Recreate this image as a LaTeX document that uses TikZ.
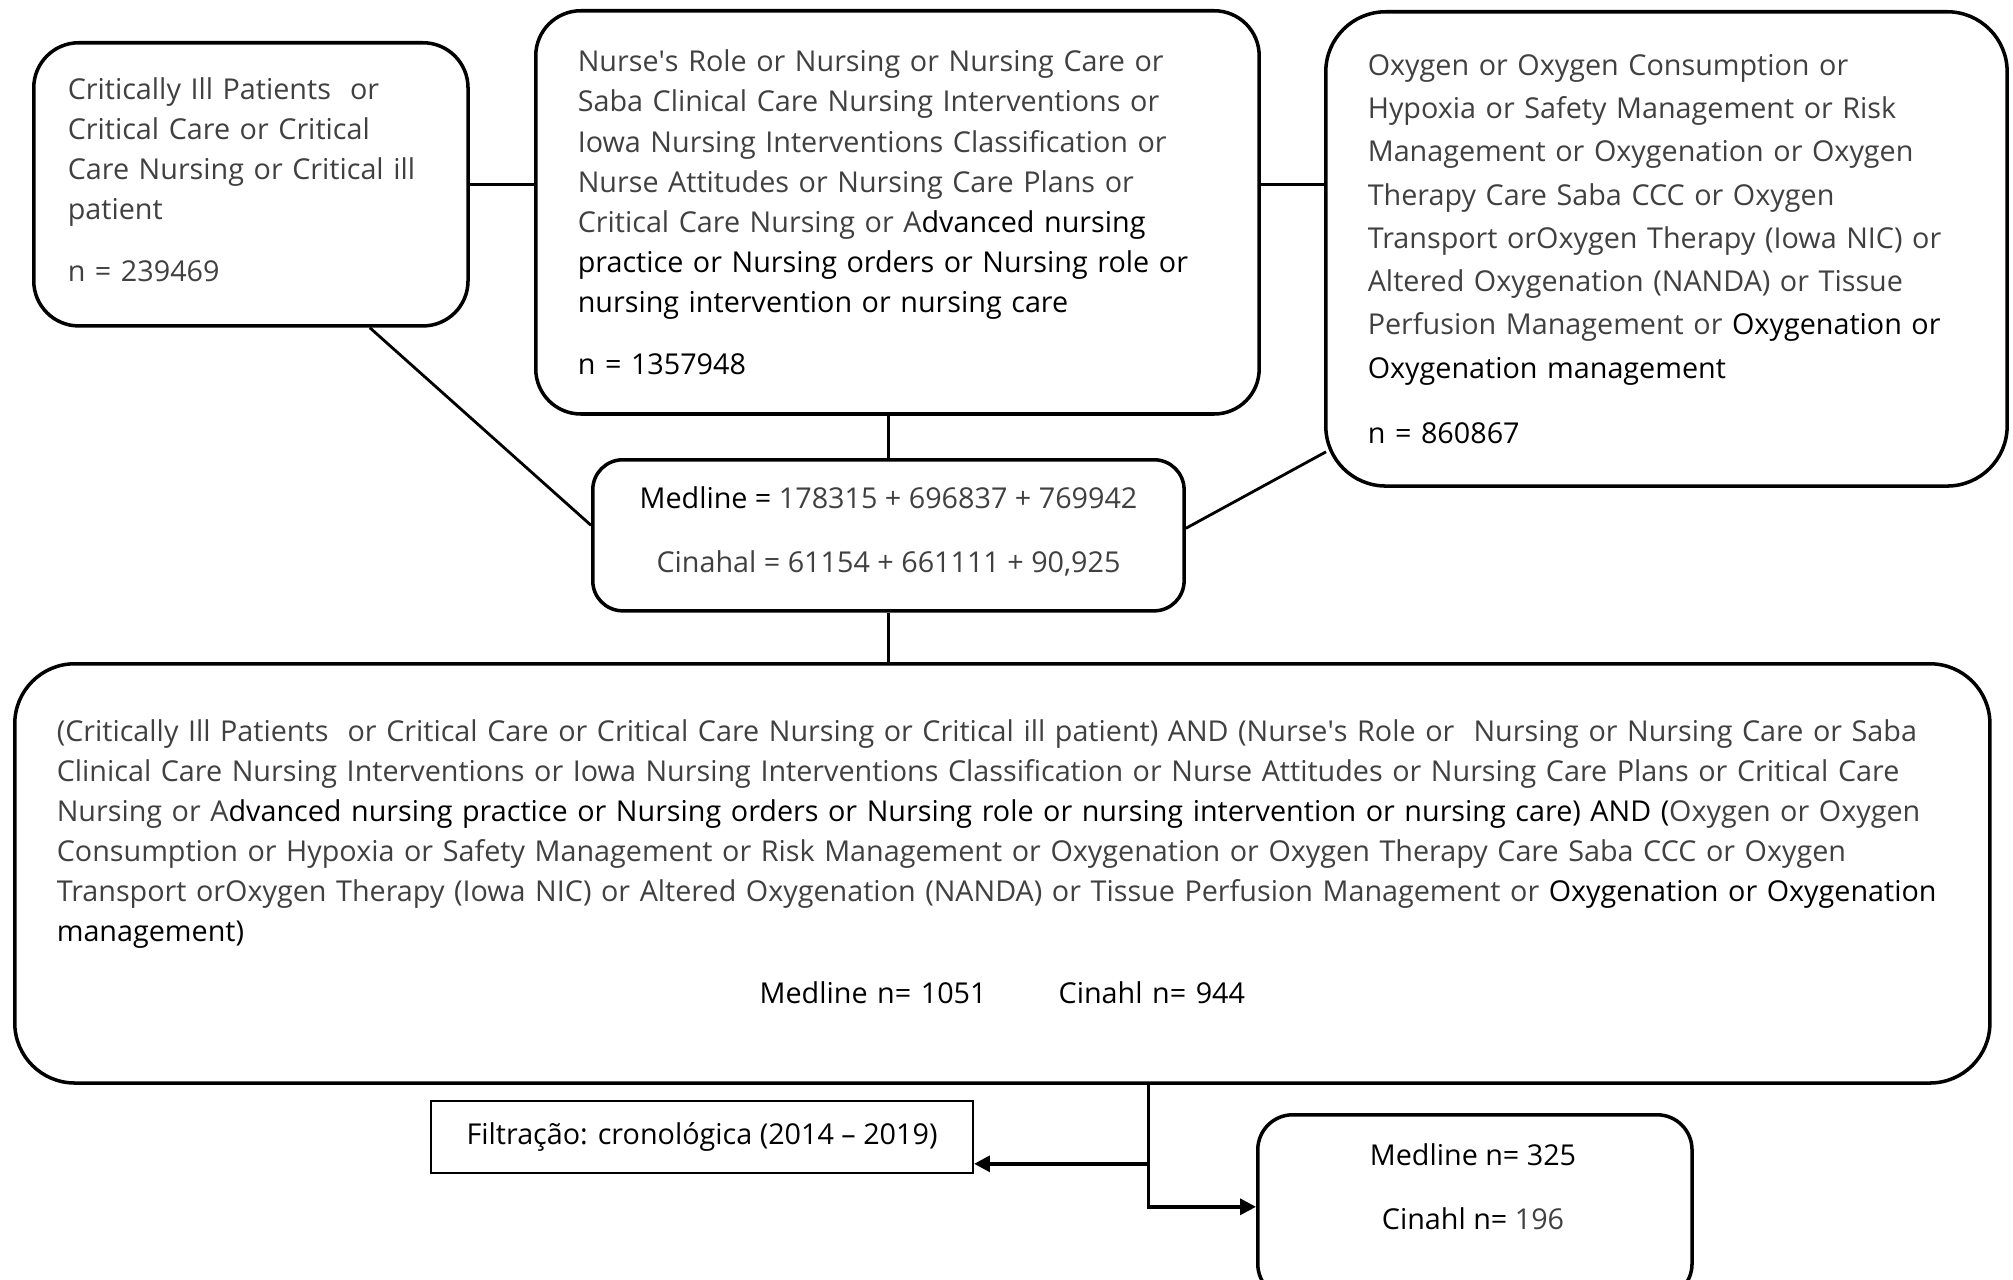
\documentclass[tikz,border=0pt]{standalone}
\usepackage{fontspec}
\setmainfont{Open Sans}
\usepackage{tikz}
\usetikzlibrary{arrows.meta,positioning,calc}
\tikzset{>={Triangle[length=4.5pt,width=4.5pt]}}
\definecolor{termgray}{RGB}{64,64,64}
\newcommand{\apos}{\textquotesingle}
\newcommand{\lift}[1]{\rule[-#1]{0pt}{0pt}}
\tikzstyle{query} = [draw, line width=1pt, rounded corners=0.45cm,
    anchor=north west, align=left, inner ysep=0pt, text=termgray,
    font=\fontsize{8.17pt}{11.4pt}\selectfont]
\tikzstyle{tally} = [draw, line width=1pt, rounded corners=0.3cm,
    anchor=north west, align=center, inner ysep=0pt, text=termgray,
    font=\fontsize{8.17pt}{11.4pt}\selectfont]
\tikzstyle{link} = [line width=0.8pt]
\tikzstyle{flow} = [line width=1pt]

\begin{document}
\begin{tikzpicture}[x=0.01cm,y=-0.01cm]
    \useasboundingbox (0,0) rectangle (2013,1279);
    % search terms
    \node [query, minimum width=4.34cm, minimum height=2.83cm,
        text width=3.66cm, inner xsep=0.34cm] (crit) at (32,41)
        {Critically Ill Patients\ \ or\\Critical Care or Critical\\
        Care Nursing or Critical ill\\patient\\[0.22cm]n = 239469\lift{0.1cm}};
    \node [query, minimum width=7.23cm, minimum height=4.03cm,
        text width=6.39cm, inner xsep=0.42cm] (nurse) at (534,9)
        {Nurse\apos s Role or Nursing or Nursing Care or\\
        Saba Clinical Care Nursing Interventions or\\
        Iowa Nursing Interventions Classification or\\
        Nurse Attitudes or Nursing Care Plans or\\
        Critical Care Nursing or A\color{black}dvanced nursing\\
        practice or Nursing orders or Nursing role or\\
        nursing intervention or nursing care\\[0.22cm]n = 1357948};
    \node [query, minimum width=6.81cm, minimum height=4.74cm,
        text width=5.97cm, inner xsep=0.42cm, rounded corners=0.6cm,
        font=\fontsize{8.17pt}{12.3pt}\selectfont] (oxy) at (1324,10)
        {Oxygen or Oxygen Consumption or\\
        Hypoxia or Safety Management or Risk\\
        Management or Oxygenation or Oxygen\\
        Therapy Care Saba CCC or Oxygen\\
        Transport orOxygen Therapy (Iowa NIC) or\\
        Altered Oxygenation (NANDA) or Tissue\\
        Perfusion Management or \color{black}Oxygenation or\\
        Oxygenation management\\[0.22cm]n = 860867};
    % database sums
    \node [tally, minimum width=5.91cm, minimum height=1.51cm] (sum) at (591,458)
        {{\color{black}Medline =} 178315 + 696837 + 769942\\[0.24cm]
        Cinahal = 61154 + 661111 + 90,925\lift{0.12cm}};
    % combined search
    \node [query, minimum width=19.74cm, minimum height=4.19cm,
        text width=18.9cm, inner xsep=0.42cm, rounded corners=0.6cm] (all) at (13,662)
        {\mbox{(Critically Ill Patients\ \ or Critical Care or Critical Care Nursing or Critical ill patient) AND (Nurse\apos s Role or\ \ Nursing or Nursing Care or Saba}\\
        \mbox{Clinical Care Nursing Interventions or Iowa Nursing Interventions Classification or Nurse Attitudes or Nursing Care Plans or Critical Care}\\
        \mbox{Nursing or A\color{black}dvanced nursing practice or Nursing orders or Nursing role or nursing intervention or nursing care) AND (\color{termgray}Oxygen or Oxygen}\\
        \mbox{Consumption or Hypoxia or Safety Management or Risk Management or Oxygenation or Oxygen Therapy Care Saba CCC or Oxygen}\\
        \mbox{Transport orOxygen Therapy (Iowa NIC) or Altered Oxygenation (NANDA) or Tissue Perfusion Management or \color{black}Oxygenation or Oxygenation}\\
        \color{black}management)\\[0.22cm]
        \makebox[\linewidth][c]{Medline n= 1051\hspace{0.72cm}Cinahl n= 944}\lift{0.24cm}};
    % filter and result
    \node [draw, line width=0.5pt, anchor=north west, minimum width=5.42cm,
        minimum height=0.72cm, inner sep=0pt,
        font=\fontsize{8.17pt}{11.4pt}\selectfont] (filter) at (430,1100)
        {Filtração: cronológica (2014 – 2019)};
    \node [tally, minimum width=4.34cm, minimum height=1.84cm,
        rounded corners=0.35cm] (result) at (1256,1113) {};
    \node [align=center, text=black, font=\fontsize{8.17pt}{11.4pt}\selectfont]
        (restext) at (1473,1187)
        {Medline n= 325\\[0.24cm]Cinahl n= \color{termgray}196};
    % connectors
    \draw [link] (crit.east) -- (crit.east -| nurse.west);
    \draw [link] (crit.east -| nurse.east) -- (crit.east -| oxy.west);
    \draw [link] (sum.north) -- (sum.north |- nurse.south);
    \draw [link] ($(crit.south east)+(-100,0)$) -- ($(sum.west)+(0,-10)$);
    \draw [link] ($(oxy.south west)+(2,-36)$) -- ($(sum.east)+(0,-7)$);
    \draw [link] (sum.south) -- (sum.south |- all.north);
    \coordinate (fork) at ($(all.south)+(146,0)$);
    \coordinate (filterin) at ($(filter.south east)+(0,-10)$);
    \draw [flow,->] (fork) |- (result.west);
    \draw [flow,->] (fork |- filterin) -- (filterin);
\end{tikzpicture}
\end{document}
